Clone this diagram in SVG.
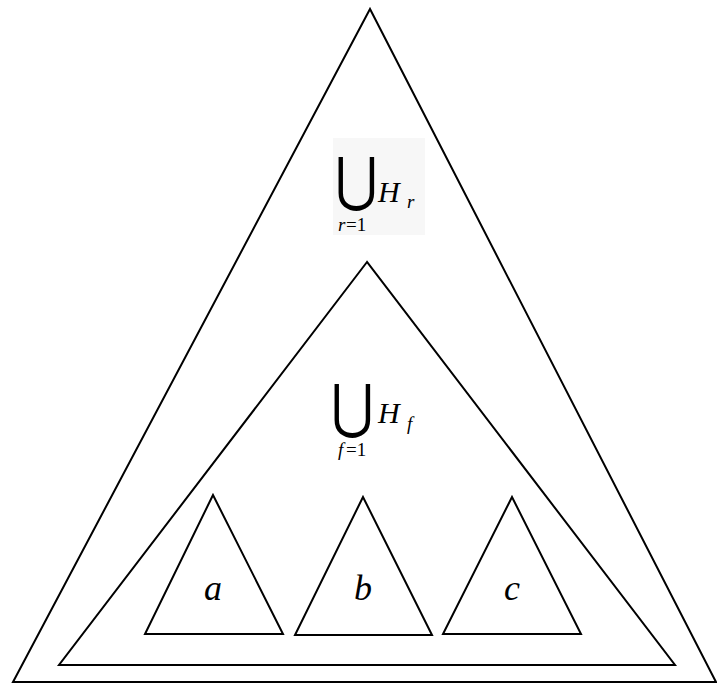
<svg xmlns="http://www.w3.org/2000/svg" width="717" height="684" viewBox="0 0 717 684">
<style>
.tri{fill:none;stroke:#000;stroke-width:2;stroke-linejoin:miter}
.m{font-family:"Liberation Serif","Times New Roman",serif;font-style:italic;fill:#000}
.n{font-family:"Liberation Serif","Times New Roman",serif;fill:#000}
.op{font-family:"DejaVu Sans",sans-serif;font-weight:200;fill:#000}
</style>
<rect width="717" height="684" fill="#fff"/>
<g id="outer"><polygon class="tri" points="370,9 13,682 716,682"/></g>
<g id="inner"><polygon class="tri" points="367,262 59,665 675,665"/></g>
<g id="label-r">
<rect x="333" y="138" width="92" height="97" fill="#f7f7f7"/>
<text class="op" transform="translate(356.5,199) scale(0.9,1.02)" font-size="58" text-anchor="middle">⋃</text>
<text class="m" x="378" y="202" font-size="30">H</text>
<text class="m" x="407" y="208" font-size="19">r</text>
<text class="m" x="338" y="231" font-size="19">r</text>
<text class="n" x="346" y="231" font-size="19">=1</text>
</g>
<g id="label-f">
<text class="op" transform="translate(352.5,426) scale(0.9,1.02)" font-size="58" text-anchor="middle">⋃</text>
<text class="m" x="378" y="423" font-size="30">H</text>
<text class="m" x="407" y="430" font-size="19">f</text>
<text class="m" x="338" y="456" font-size="19">f</text>
<text class="n" x="346" y="456" font-size="19">=1</text>
</g>
<g id="a"><polygon class="tri" points="213,495 145,634 283,634"/><text class="m" x="213" y="600" font-size="36" text-anchor="middle">a</text></g>
<g id="b"><polygon class="tri" points="363,497 295,635 432,635"/><text class="m" x="363" y="600" font-size="36" text-anchor="middle">b</text></g>
<g id="c"><polygon class="tri" points="512,497 443,634 581,634"/><text class="m" x="512" y="600" font-size="36" text-anchor="middle">c</text></g>
</svg>
